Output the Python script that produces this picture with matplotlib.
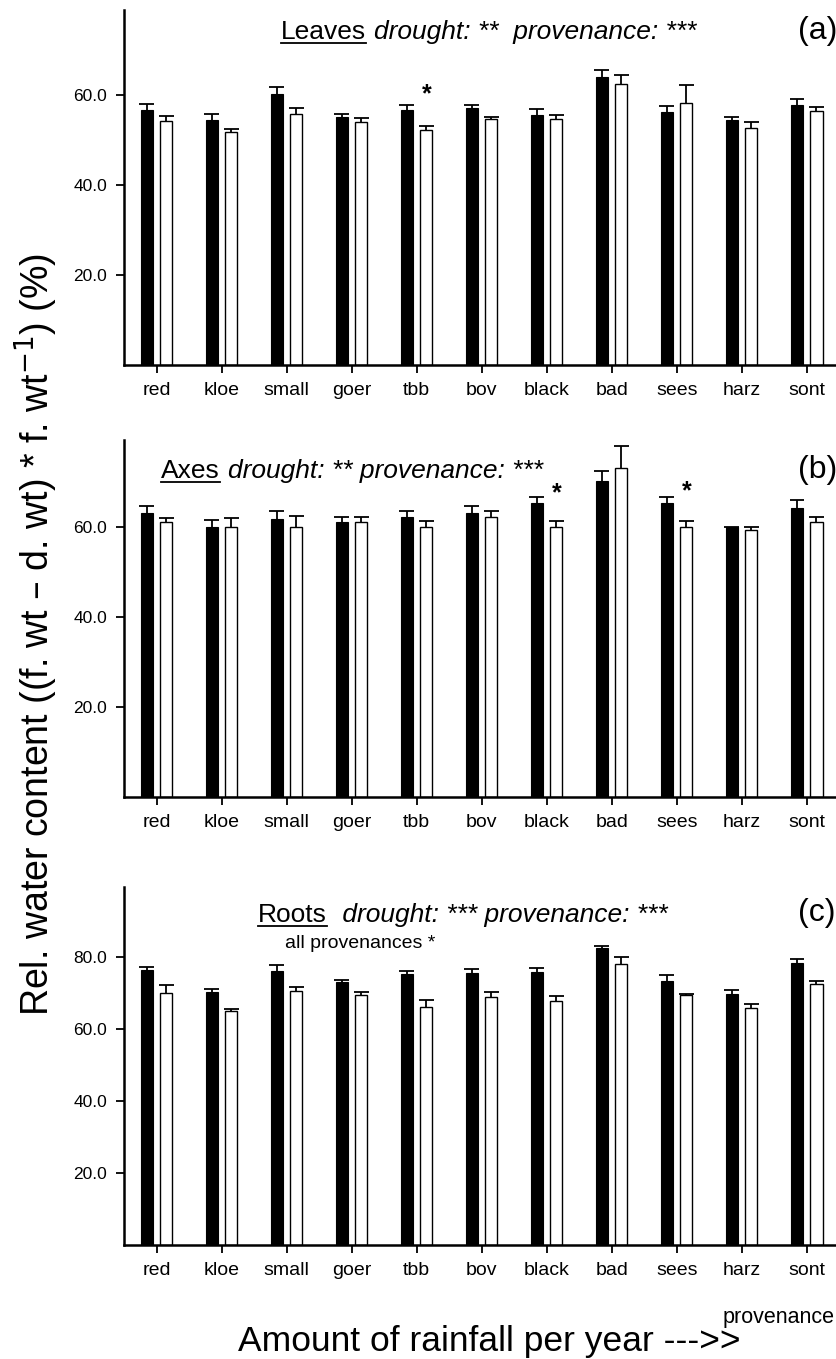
import numpy as np
import matplotlib.pyplot as plt
from matplotlib.lines import Line2D

plt.rcParams['font.family'] = ['Liberation Sans', 'DejaVu Sans']

provenances = ['red', 'kloe', 'small', 'goer', 'tbb', 'bov', 'black', 'bad', 'sees', 'harz', 'sont']

# (a) Leaves
leaves_control = [56.8, 54.5, 60.3, 55.1, 56.8, 57.1, 55.7, 64.1, 56.4, 54.5, 57.9]
leaves_control_se = [1.3, 1.4, 1.5, 0.8, 1.0, 0.7, 1.3, 1.6, 1.2, 0.7, 1.4]
leaves_drought = [54.2, 51.8, 55.9, 54.1, 52.4, 54.8, 54.8, 62.6, 58.4, 52.8, 56.5]
leaves_drought_se = [1.1, 0.7, 1.4, 0.9, 0.7, 0.3, 0.8, 2.0, 4.0, 1.2, 0.9]

# (b) Axes
axes_control = [63.1, 60.0, 61.8, 61.1, 62.2, 63.1, 65.2, 70.2, 65.2, 60.0, 64.2]
axes_control_se = [1.6, 1.5, 1.7, 1.0, 1.3, 1.6, 1.5, 2.2, 1.5, 0.0, 1.7]
axes_drought = [61.1, 60.0, 60.0, 61.1, 60.0, 62.2, 60.0, 73.0, 60.0, 59.2, 61.1]
axes_drought_se = [0.9, 2.0, 2.5, 1.0, 1.3, 1.3, 1.2, 4.9, 1.3, 0.8, 1.1]

# (c) Roots
roots_control = [76.3, 70.3, 76.1, 72.9, 75.2, 75.6, 75.9, 82.6, 73.3, 69.8, 78.4]
roots_control_se = [1.0, 0.8, 1.7, 0.8, 1.0, 0.9, 1.0, 0.5, 1.6, 1.1, 0.9]
roots_drought = [70.1, 65.0, 70.6, 69.4, 66.2, 68.9, 67.8, 78.1, 69.3, 65.9, 72.4]
roots_drought_se = [2.0, 0.6, 0.9, 0.9, 1.7, 1.4, 1.2, 1.8, 0.5, 1.1, 1.0]

W, H = 836, 1359
fig = plt.figure(figsize=(W / 100, H / 100), dpi=100)

# panel boxes in pixels: top, bottom
boxes = [(10, 365), (440, 797), (887, 1245)]
ylims = [79.0, 79.3, 99.4]
yticks = [[20, 40, 60], [20, 40, 60], [20, 40, 60, 80]]
data = [
    (leaves_control, leaves_control_se, leaves_drought, leaves_drought_se),
    (axes_control, axes_control_se, axes_drought, axes_drought_se),
    (roots_control, roots_control_se, roots_drought, roots_drought_se),
]

x = np.arange(len(provenances))
off = 0.15
bw = 0.185
capw = 0.115
axs = []
for (top, bot), ymax, yt, (c, cse, d, dse) in zip(boxes, ylims, yticks, data):
    ax = fig.add_axes([124 / W, 1 - bot / H, 1 - 124 / W, (bot - top) / H])
    ax.bar(x - off, c, bw, color='black', edgecolor='black', linewidth=0.8, zorder=2)
    ax.bar(x + off, d, bw, color='white', edgecolor='black', linewidth=1.0, zorder=2)
    for xs, v, e in [(x - off, c, cse), (x + off, d, dse)]:
        v = np.array(v)
        e = np.array(e)
        ax.vlines(xs, v, v + e, color='black', lw=1.3, zorder=3)
        ax.hlines(v + e, xs - capw, xs + capw, color='black', lw=1.3, zorder=3)
    ax.set_xlim(-0.5, 10.45)
    ax.set_ylim(0, ymax)
    ax.set_yticks(yt)
    ax.set_yticklabels([f'{t:.1f}' for t in yt], fontsize=12.5)
    ax.set_xticks(x)
    ax.set_xticklabels(provenances, fontsize=14)
    ax.tick_params(axis='both', direction='out', length=6, width=1.3, pad=6)
    for s in ['top', 'right']:
        ax.spines[s].set_visible(False)
    for s in ['left', 'bottom']:
        ax.spines[s].set_linewidth(1.8)
    axs.append(ax)


def px(xp, yp):
    return xp / W, 1 - yp / H


renderer = fig.canvas.get_renderer()


def panel_title(word, rest, xp, yp, size=19):
    t = fig.text(*px(xp, yp), word, fontsize=size, va='baseline', ha='left')
    bb = t.get_window_extent(renderer=renderer)
    fig.text((bb.x1 + 8) / W, 1 - yp / H, rest, fontsize=size, style='italic',
             va='baseline', ha='left')
    uy = 1 - (yp + 4) / H
    fig.add_artist(Line2D([bb.x0 / W, bb.x1 / W], [uy, uy], color='black', lw=1.3))


panel_title('Leaves', 'drought: **  provenance: ***', 281, 39)
panel_title('Axes', 'drought: ** provenance: ***', 161, 478)
panel_title('Roots', ' drought: *** provenance: ***', 258, 922)
fig.text(*px(285, 944), 'all provenances *', fontsize=14, va='center', ha='left')

for lab, yp in [('(a)', 31), ('(b)', 470), ('(c)', 913)]:
    fig.text(*px(798, yp), lab, fontsize=23, va='center', ha='left')

# significance stars above drought bars
stars = [(0, 4, 60.2), (1, 6, 67.4), (1, 8, 68.0)]
for p, i, yv in stars:
    axs[p].text(i + off, yv, '*', fontsize=18, fontweight='bold', ha='center', va='center')

fig.text(*px(36, 635), 'Rel. water content ((f. wt \u2013 d. wt) * f. wt$^{-1}$) (%)',
         rotation=90, fontsize=27, ha='center', va='center')
fig.text(*px(835, 1317), 'provenance', fontsize=15.5, ha='right', va='center')
fig.text(*px(489, 1341), 'Amount of rainfall per year --->>', fontsize=25.5, ha='center', va='center')

fig.savefig('out.png', dpi=100)
